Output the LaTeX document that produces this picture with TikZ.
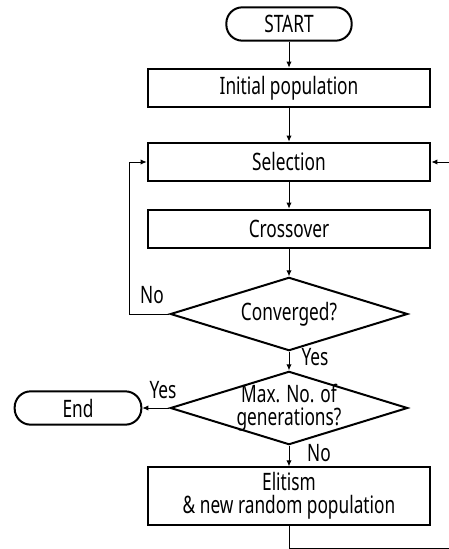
\documentclass[tikz,border=0pt]{standalone}
\usepackage{fontspec}
\setmainfont{Noto Sans}[FakeStretch=0.72]
\usetikzlibrary{arrows.meta,shapes.geometric}
\tikzset{
  every node/.style={font=\fontsize{18pt}{17pt}\selectfont},
  blk/.style={draw, line width=1.5pt, minimum width=212pt, minimum height=29pt,
              inner sep=0pt, align=center},
  term/.style={draw, line width=1.5pt, rounded corners=12pt, minimum width=94pt,
              minimum height=25pt, inner sep=0pt},
  dec/.style={draw, diamond, line width=1.5pt, shape aspect=3.2, minimum width=178pt,
              minimum height=55pt, inner sep=0pt, align=center},
  lbl/.style={inner sep=0pt},
  ar/.style={-{Latex[length=4.5pt,width=4pt]}, line width=0.75pt},
  ln/.style={line width=0.75pt},
}
\begin{document}
\begin{tikzpicture}[x=0.75pt, y=-0.75pt]
\useasboundingbox (0,0) rectangle (449,549);

% ============ main column ====================================================
\node[term] (start) at (289,24) {START};
\node[blk]  (init)  at (289,88) {Initial population};
\node[blk]  (sel)   at (289,162) {Selection};
\node[blk]  (cross) at (289,229) {Crossover};
\node[dec]  (conv)  at (289,314) {Converged?};
\node[dec, inner ysep=-8pt] (maxg) at (289,408) {Max. No. of\\generations?};
\node[term, minimum width=95pt] (stop) at (78,408) {End};
\node[blk, minimum height=43pt] (elit) at (289,496) {Elitism\\\& new random population};

\draw[ar] (start) -- (init);
\draw[ar] (init) -- (sel);
\draw[ar] (sel) -- (cross);
\draw[ar] (cross) -- (conv);
\draw[ar] (conv) -- (maxg);
\draw[ar] (maxg) -- (elit);
\draw[ar] (maxg.west) -- (stop);

% ============ loops ==========================================================
\coordinate (rin)  at (449,162);
\coordinate (rout) at (449,548);
\draw[ar] (conv.west) -- (129,314) |- (sel.west);
\draw[ln] (elit.south) |- (rout);
\draw[ar] (rin) -- (sel.east);

% ============ labels =========================================================
\node[lbl] (lno1)  at (152,295) {No};
\node[lbl] (lyes1) at (315,357) {Yes};
\node[lbl] (lyes2) at (163,390) {Yes};
\node[lbl] (lno2)  at (319,453) {No};

\end{tikzpicture}
\end{document}
